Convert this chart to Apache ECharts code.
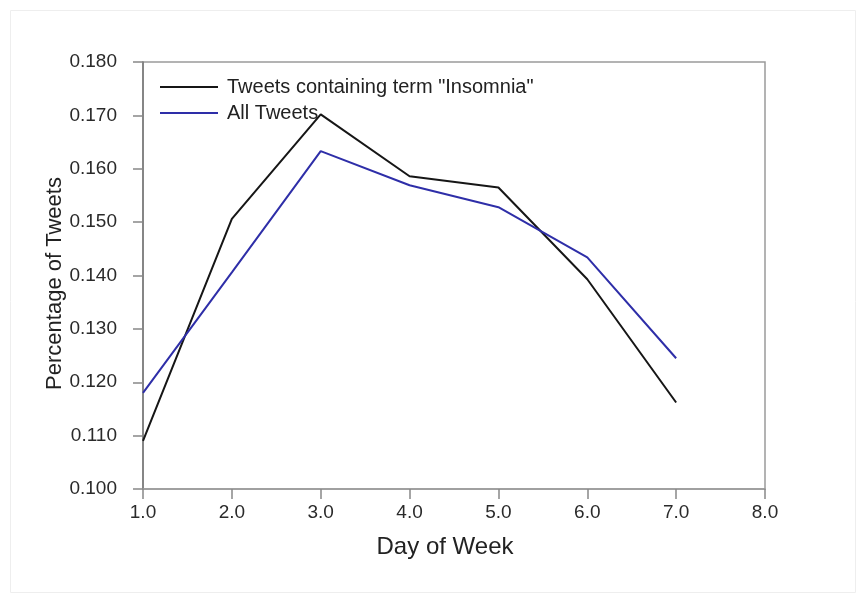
<!DOCTYPE html>
<html>
<head>
<meta charset="utf-8">
<script src="https://cdn.jsdelivr.net/npm/echarts@6/dist/echarts.min.js"></script>
<style>
  html, body { margin: 0; padding: 0; background: #fff; }
  #chart { width: 865px; height: 596px; }
</style>
</head>
<body>
<div id="chart"></div>
<script>
// Day of week (1 = first day) and share of tweets per day
const days = [1, 2, 3, 4, 5, 6, 7];
const insomniaTweets = [0.1090, 0.1506, 0.1702, 0.1586, 0.1565, 0.1393, 0.1162];
const allTweets = [0.1180, 0.1406, 0.1633, 0.1569, 0.1528, 0.1434, 0.1245];
const seriesNames = ['Tweets containing term "Insomnia"', 'All Tweets'];

const font = 'Liberation Sans, Arial, Helvetica, sans-serif';
const chart = echarts.init(document.getElementById('chart'), null, { renderer: 'canvas' });

chart.setOption({
  backgroundColor: '#fff',
  animation: false,
  graphic: [{
    type: 'rect',
    shape: { x: 10.5, y: 10.5, width: 845, height: 582 },
    style: { fill: 'none', stroke: '#eeeeee', lineWidth: 1 },
    silent: true
  }],
  grid: {
    left: 143, right: 100, top: 62, bottom: 107,
    show: true, borderColor: '#9a9a9a', borderWidth: 1.5, backgroundColor: 'transparent'
  },
  legend: {
    orient: 'vertical',
    left: 155, top: 72,
    itemWidth: 58, itemHeight: 2,
    itemGap: 6,
    icon: 'rect',
    textStyle: { fontFamily: font, fontSize: 20, color: '#222', padding: [0, 0, 0, 4] },
    data: seriesNames
  },
  xAxis: {
    type: 'value',
    min: 1, max: 8, interval: 1,
    name: 'Day of Week',
    nameLocation: 'middle',
    nameGap: 46,
    nameMoveOverlap: false,
    nameTextStyle: { fontFamily: font, fontSize: 24, color: '#222', padding: [0, 18, 0, 0] },
    axisLine: { show: true, onZero: false, lineStyle: { color: '#9a9a9a', width: 1.5 } },
    axisTick: { show: true, inside: false, length: 10, lineStyle: { color: '#888', width: 1.5 } },
    axisLabel: { fontFamily: font, fontSize: 19, color: '#2a2a2a', margin: 14,
      formatter: v => v.toFixed(1) },
    splitLine: { show: false }
  },
  yAxis: {
    type: 'value',
    min: 0.1, max: 0.18, interval: 0.01,
    name: 'Percentage of Tweets',
    nameLocation: 'middle',
    nameGap: 77,
    nameMoveOverlap: false,
    nameTextStyle: { fontFamily: font, fontSize: 22, color: '#222', padding: [0, 16, 0, 0] },
    axisLine: { show: true, onZero: false, lineStyle: { color: '#777', width: 1.5 } },
    axisTick: { show: true, inside: false, length: 10, lineStyle: { color: '#888', width: 1.5 } },
    axisLabel: { fontFamily: font, fontSize: 19, color: '#2a2a2a', margin: 26,
      formatter: v => v.toFixed(3) },
    splitLine: { show: false }
  },
  series: [
    {
      name: seriesNames[0],
      type: 'line',
      data: days.map((d, i) => [d, insomniaTweets[i]]),
      showSymbol: false,
      lineStyle: { color: '#161616', width: 2 },
      itemStyle: { color: '#161616' }
    },
    {
      name: seriesNames[1],
      type: 'line',
      data: days.map((d, i) => [d, allTweets[i]]),
      showSymbol: false,
      lineStyle: { color: '#2e2ea8', width: 2 },
      itemStyle: { color: '#2e2ea8' }
    }
  ]
});
</script>
</body>
</html>
